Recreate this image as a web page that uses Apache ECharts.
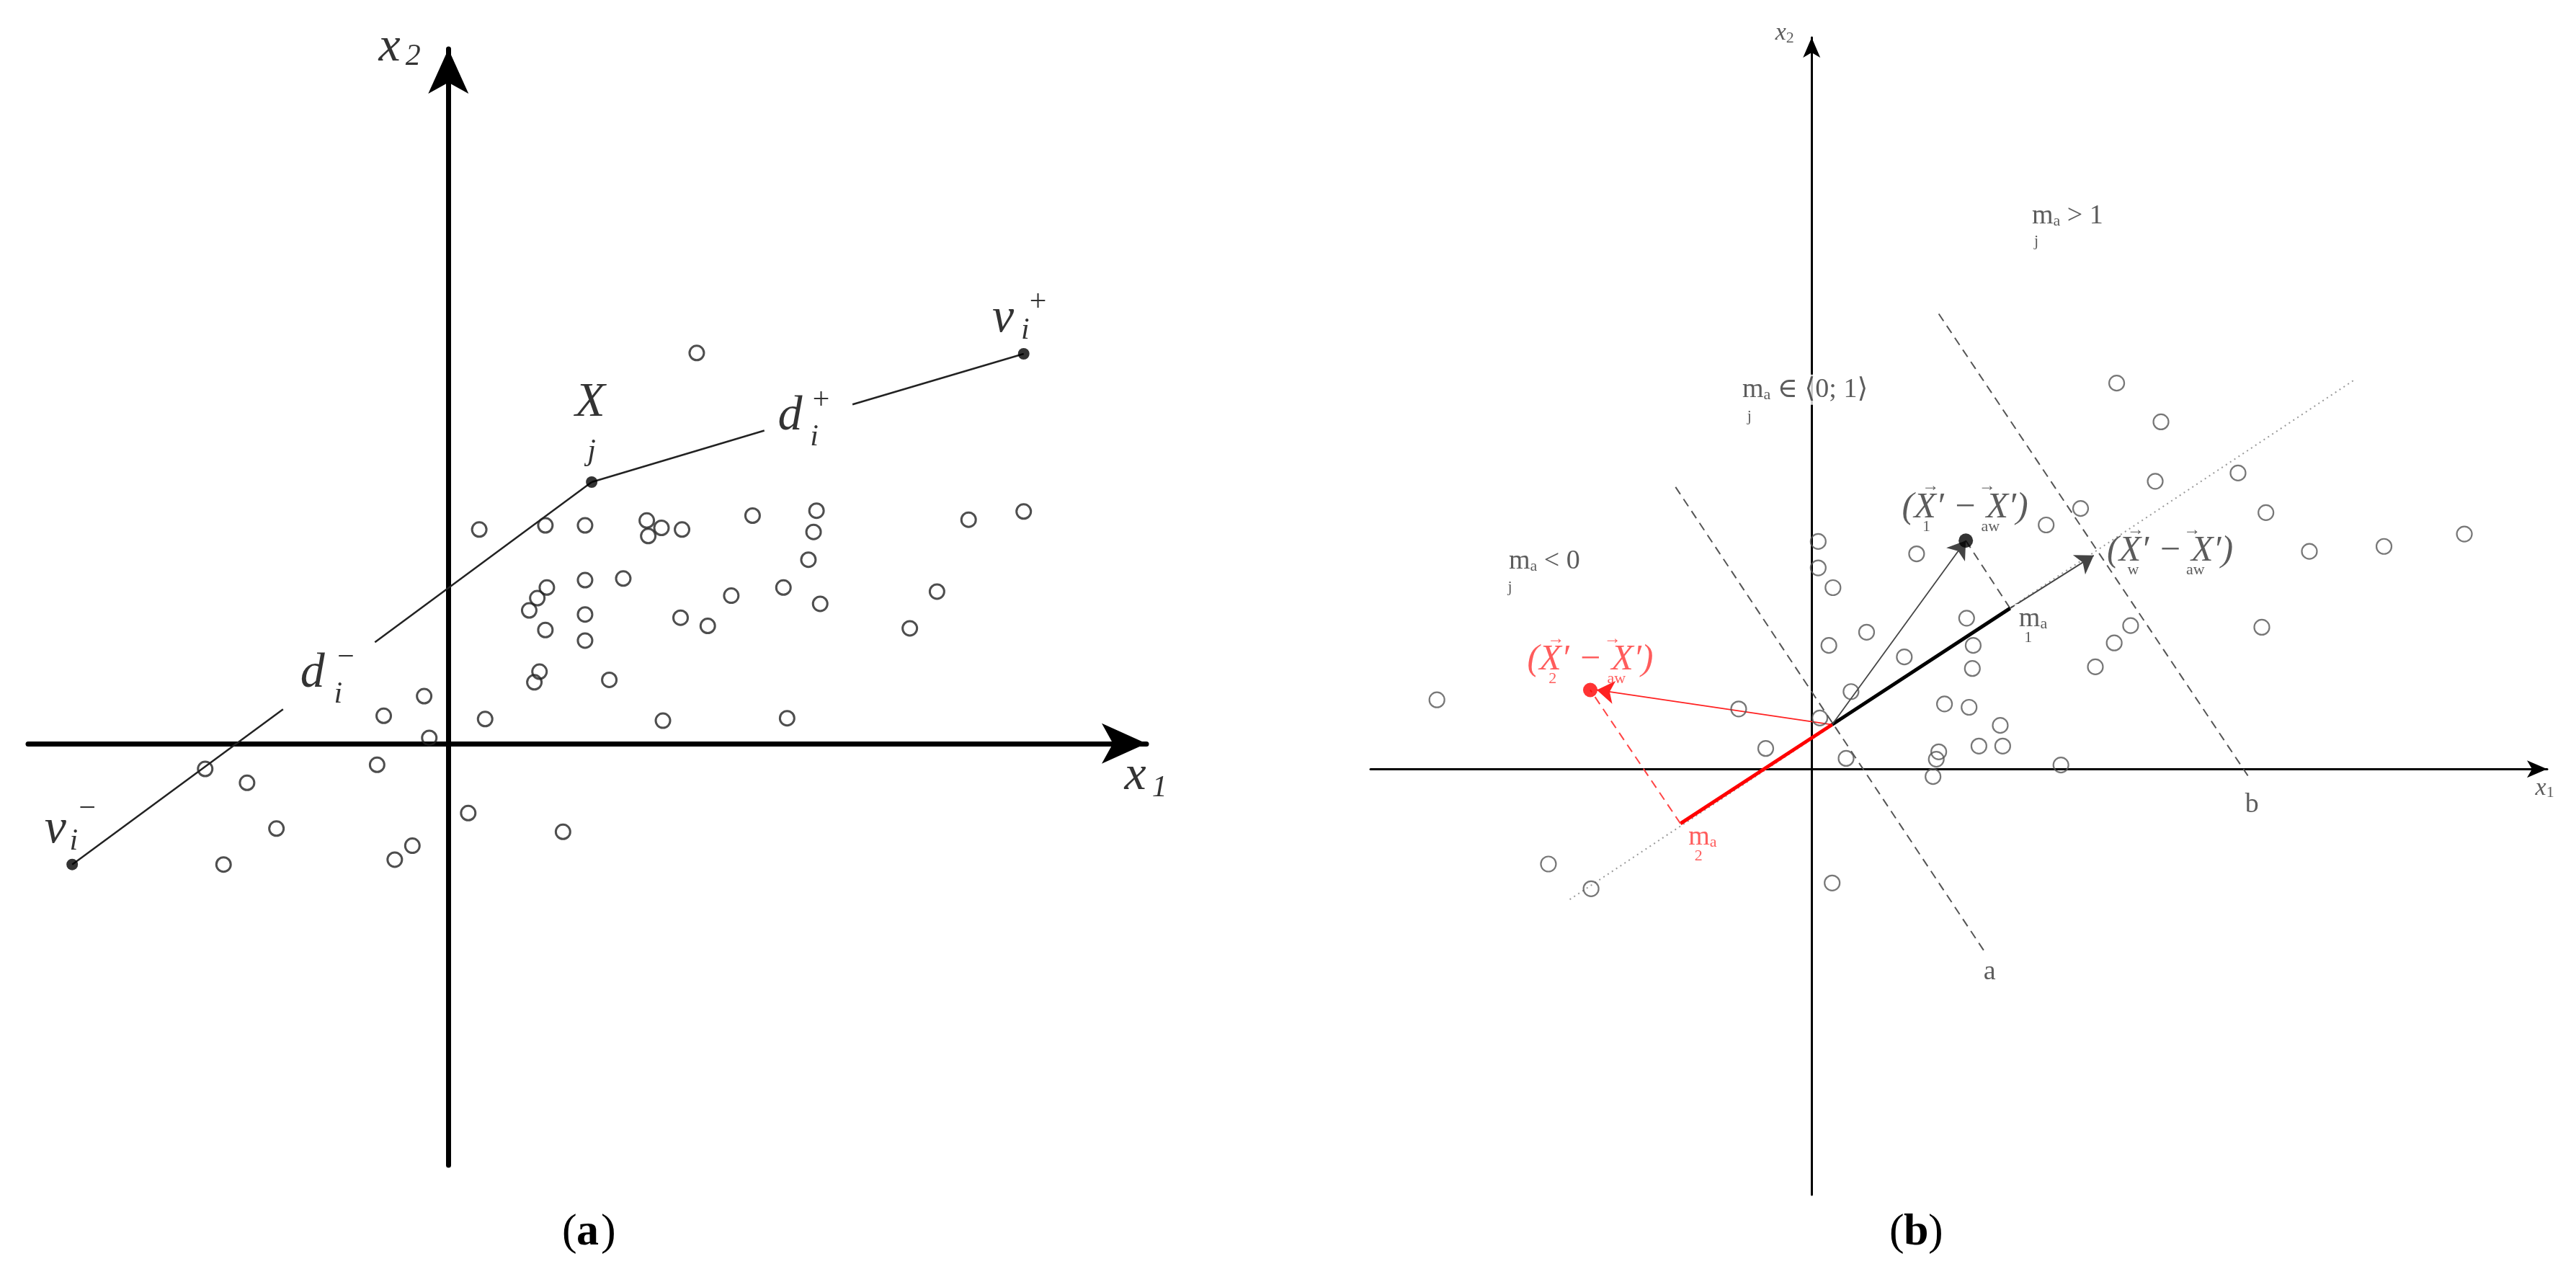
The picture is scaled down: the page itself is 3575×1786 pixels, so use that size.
<!DOCTYPE html>
<html><head><meta charset="utf-8">
<script src="https://cdn.jsdelivr.net/npm/echarts@6/dist/echarts.min.js"></script>
<style>html,body{margin:0;background:#fff}#c{width:3575px;height:1786px}</style>
</head><body><div id="c"></div>
<script>
// ---------- Panel (a) data ----------
const aCircles = [[338,478],[42,262],[132,267],[186,267],[270,273],[290,264],[318,262],[272,254],[414,279],[501,285],[497,259],[708,274],[783,284],[490,225],[238,202],[186,200],[134,191],[121,178],[110,163],[186,158],[132,139],[186,126],[316,154],[353,144],[385,181],[456,191],[506,171],[628,141],[665,186],[124,88],[117,75],[219,78],[-33,58],[-88,34],[50,30],[292,28],[461,31],[-26,7],[-97,-26],[-331,-31],[-274,-48],[-234,-104],[-306,-148],[-73,-142],[-49,-125],[27,-85],[156,-108]];
const aDots = [[-512,-148],[195,320],[783,477]];
const aSegments = [[[-512,-148],[-225,42]],[[-100,124],[195,320]],[[195,320],[430,383]],[[550,415],[783,477]]];
const aMainLabels = [[-80,852,'x'],[935,-40,'x'],[755,520,'v'],[193,417,'X'],[465,400,'d'],[-185,85,'d'],[-535,-105,'v']];
const aSubLabels = [[-48,840,'2'],[968,-55,'1'],[785,505,'i'],[802,540,'+'],[195,357,'j'],[507,420,'+'],[498,375,'i'],[-140,105,'−'],[-150,60,'i'],[-492,-80,'−'],[-510,-120,'i']];
// ---------- Panel (b) data ----------
const bCircles = [[372,468],[426,421],[419,349],[520,359],[554,311],[328,316],[286,296],[607,264],[698,270],[796,285],[8,276],[8,244],[26,220],[128,261],[189,183],[197,150],[196,122],[113,136],[67,166],[21,150],[48,94],[10,62],[162,79],[192,75],[230,53],[233,28],[204,28],[155,21],[152,12],[148,-9],[42,13],[-56,25],[-89,73],[304,5],[346,124],[369,153],[389,174],[549,172],[-457,84],[-321,-115],[-269,-145],[25,-138]];
const bBlackDots = [[188,277]];
const bRedDots = [[-270,96]];
const bThickBlack = [[[25,54],[242,195]]];
const bThinArrows = [[[242,195],[344,259]],[[25,54],[188,277]]];
const bRedArrow = [[[25,54],[-262,96]]];
const bRedThick = [[[25,54],[-160,-66]]];
const bRedDashed = [[[-160,-66],[-270,96]]];
const bGrayDashed = [[[-166,342],[212,-223]],[[155,552],[532,-8]],[[188,277],[242,195]]];
const bDotted = [[[-295,-158],[662,472]]];
const bMathLabels = [[312,670,'{m|m}{s|a}{m| > 1}'],[-8,460,'{m|m}{s|a}{m| ∈ ⟨0; 1⟩}'],[-326,252,'{m|m}{s|a}{m| < 0}'],[270,182,'{m|m}{s|a}'],[217,-246,'{m|a}'],[537,-43,'{m|b}']];
const bSubLabels = [[274,640,'j'],[-76,427,'j'],[-368,220,'j'],[264,159,'1'],[140,294,'1'],[218,294,'aw'],[392,241,'w'],[468,241,'aw']];
const bVecLabels = [[187,317,'(X′ − X′)'],[437,264,'(X′ − X′)']];
const bVecArrows = [[145,343,'→'],[214,343,'→'],[395,290,'→'],[464,290,'→']];
const bRedVecLabels = [[-270,132,'(X′ − X′)']];
const bRedVecArrows = [[-312,158,'→'],[-243,158,'→']];
const bRedSubLabels = [[-316,109,'2'],[-238,109,'aw'],[-138,-106,'2']];
const bRedMath = [[-133,-83,'{m|m}{s|a}']];
const bAxisLabels = [[894,-23,'{i|x}{s|1}'],[-33,892,'{i|x}{s|2}']];

const SERIF = 'Liberation Serif, DejaVu Serif, serif';
function labelSeries(gi, arr, lab){
  return {type:'scatter', xAxisIndex:gi, yAxisIndex:gi, symbolSize:0, silent:true, z:10, clip:false,
    data: arr.map(d=>({value:[d[0],d[1]], name:d[2]})),
    label: Object.assign({show:true, position:'inside', formatter:p=>p.name, fontFamily:SERIF, color:'#000'}, lab)};
}
function linesSeries(gi, arr, style, sym, symSize){
  return {type:'lines', coordinateSystem:'cartesian2d', xAxisIndex:gi, yAxisIndex:gi, silent:true,
    symbol: sym||['none','none'], symbolSize: symSize||12, z:3,
    data: arr.map(c=>({coords:c})), lineStyle: Object.assign({opacity:1}, style)};
}
const axisBase = (w, sz) => ({show:true, axisLine:{show:true, onZero:true, lineStyle:{color:'#000', width:w}, symbol:['none','arrow'], symbolSize:sz}, axisTick:{show:false}, axisLabel:{show:false}, splitLine:{show:false}});

const option = {
  animation:false, backgroundColor:'#fff',
  grid:[{left:39, top:68, width:1552, height:1549}, {left:1902, top:52, width:1633, height:1606}],
  xAxis:[Object.assign({type:'value', gridIndex:0, min:-572, max:950}, axisBase(7,[42,62])),
         Object.assign({type:'value', gridIndex:1, min:-538, max:897}, axisBase(3,[18,28]))],
  yAxis:[Object.assign({type:'value', gridIndex:0, min:-516, max:850}, axisBase(7,[42,62])),
         Object.assign({type:'value', gridIndex:1, min:-516, max:887}, axisBase(3,[18,28]))],
  series:[
    linesSeries(0, aSegments, {color:'#222', width:2.5}),
    {type:'scatter', xAxisIndex:0, yAxisIndex:0, symbol:'circle', symbolSize:20, silent:true, z:4,
      data:aCircles, itemStyle:{color:'rgba(255,255,255,0)', borderColor:'#222', borderWidth:3}},
    {type:'scatter', xAxisIndex:0, yAxisIndex:0, symbol:'circle', symbolSize:16, silent:true, z:5,
      data:aDots, itemStyle:{color:'#000'}},
    labelSeries(0, aMainLabels, {fontSize:68, fontStyle:'italic'}),
    labelSeries(0, aSubLabels, {fontSize:42, fontStyle:'italic'}),
    linesSeries(1, bDotted, {color:'#999', width:2, type:[2,5]}),
    linesSeries(1, bGrayDashed, {color:'#555', width:2, type:[12,8]}),
    linesSeries(1, bThickBlack, {color:'#000', width:5}),
    linesSeries(1, bThinArrows, {color:'#444', width:1.8}, ['none','arrow'], [16,24]),
    linesSeries(1, bRedArrow, {color:'#f22', width:1.8}, ['none','arrow'], [16,24]),
    linesSeries(1, bRedThick, {color:'#f00', width:5}),
    linesSeries(1, bRedDashed, {color:'#f44', width:2, type:[12,8]}),
    {type:'scatter', xAxisIndex:1, yAxisIndex:1, symbol:'circle', symbolSize:21, silent:true, z:4,
      data:bCircles, itemStyle:{color:'rgba(255,255,255,0)', borderColor:'#555', borderWidth:2.2}},
    {type:'scatter', xAxisIndex:1, yAxisIndex:1, symbol:'circle', symbolSize:20, silent:true, z:5,
      data:bBlackDots, itemStyle:{color:'#000'}},
    {type:'scatter', xAxisIndex:1, yAxisIndex:1, symbol:'circle', symbolSize:20, silent:true, z:5,
      data:bRedDots, itemStyle:{color:'#f00'}},
    labelSeries(1, bMathLabels, {backgroundColor:'#fff', padding:[2,6], rich:{m:{fontSize:38, fontFamily:SERIF, color:'#333'}, s:{fontSize:22, fontFamily:SERIF, color:'#333', padding:[14,0,0,0]}}}),
    labelSeries(1, bSubLabels, {fontSize:22, color:'#333'}),
    labelSeries(1, bVecLabels, {fontSize:50, fontStyle:'italic', color:'#333'}),
    labelSeries(1, bVecArrows, {fontSize:24, color:'#333'}),
    labelSeries(1, bRedVecLabels, {fontSize:50, fontStyle:'italic', color:'#f33'}),
    labelSeries(1, bRedVecArrows, {fontSize:24, color:'#f33'}),
    labelSeries(1, bRedSubLabels, {fontSize:22, color:'#f33'}),
    labelSeries(1, bRedMath, {rich:{m:{fontSize:38, fontFamily:SERIF, color:'#f33'}, s:{fontSize:22, fontFamily:SERIF, color:'#f33', padding:[14,0,0,0]}}}),
    labelSeries(1, bAxisLabels, {rich:{i:{fontSize:34, fontStyle:'italic', fontFamily:SERIF, color:'#333'}, s:{fontSize:22, fontFamily:SERIF, color:'#333', padding:[14,0,0,0]}}})
  ],
  graphic:[
    {type:'text', left:780, top:1680, style:{text:'(', font:'62px '+SERIF, fill:'#000'}},
    {type:'text', left:800, top:1680, style:{text:'a', font:'bold 62px '+SERIF, fill:'#000'}},
    {type:'text', left:834, top:1680, style:{text:')', font:'62px '+SERIF, fill:'#000'}},
    {type:'text', left:2622, top:1680, style:{text:'(', font:'62px '+SERIF, fill:'#000'}},
    {type:'text', left:2642, top:1680, style:{text:'b', font:'bold 62px '+SERIF, fill:'#000'}},
    {type:'text', left:2676, top:1680, style:{text:')', font:'62px '+SERIF, fill:'#000'}}
  ]
};
echarts.init(document.getElementById('c')).setOption(option);
</script></body></html>
